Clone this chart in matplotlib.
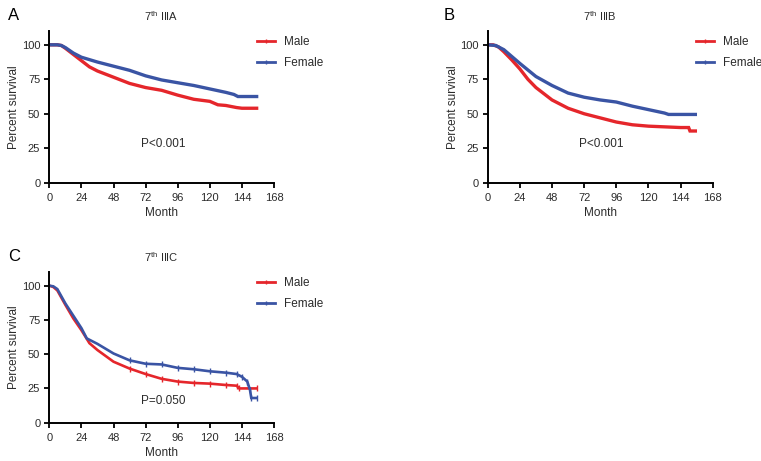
import matplotlib
matplotlib.use("Agg")
import matplotlib.pyplot as plt
from matplotlib.lines import Line2D

plt.rcParams['font.family'] = ['Liberation Sans', 'DejaVu Sans']
plt.rcParams['mathtext.fontset'] = 'custom'
plt.rcParams['mathtext.rm'] = 'Liberation Sans'
plt.rcParams['mathtext.it'] = 'Liberation Sans'

RED = '#e5262b'
BLUE = '#3a54a4'
TXT = '#2b2b2b'

# ---- Data ----
a_male_t = [0, 6, 9, 12, 18, 24, 30, 36, 48, 60, 72, 84, 96, 108, 120, 126, 132, 140, 144, 155]
a_male_s = [100, 100, 99.5, 97.5, 93, 88.5, 84, 81, 76.5, 72, 69, 67, 63.5, 60.5, 59, 56.5, 56, 54.5, 54, 54]
a_fem_t = [0, 6, 9, 12, 18, 24, 36, 48, 60, 72, 84, 96, 108, 120, 132, 138, 141, 155]
a_fem_s = [100, 100, 99.5, 98, 94, 91, 87.5, 84.5, 81.5, 77.5, 74.5, 72.5, 70.5, 68, 65.5, 64, 62.5, 62.5]

b_male_t = [0, 4, 8, 12, 18, 24, 30, 36, 48, 60, 72, 84, 96, 108, 120, 132, 144, 150, 151, 155]
b_male_s = [100, 100, 98.5, 95, 89, 82.5, 75, 69, 60, 54, 50, 47, 44, 42, 41, 40.5, 40, 40, 37.5, 37.5]
b_fem_t = [0, 6, 12, 18, 24, 36, 48, 60, 72, 84, 96, 108, 120, 132, 135, 155]
b_fem_s = [100, 99.5, 96.5, 91.5, 86.5, 77, 70.5, 65, 62, 60, 58.5, 55.5, 53, 50.5, 49.5, 49.5]

c_male_t = [0, 3, 6, 12, 18, 24, 30, 36, 48, 60, 72, 84, 96, 108, 120, 132, 140, 142, 155]
c_male_s = [100, 99, 96.5, 86, 76, 67.5, 58, 53, 44.5, 39.5, 35.5, 32, 30, 29, 28.5, 27.5, 27, 25, 25]
c_fem_t = [0, 3, 6, 12, 18, 24, 28, 36, 48, 60, 72, 84, 96, 108, 120, 132, 140, 144, 148, 150, 151, 155]
c_fem_s = [100, 99.5, 97.5, 87, 78, 69, 61.5, 57.5, 50.5, 45.5, 43, 42.5, 40, 39, 37.5, 36.5, 35.5, 33.5, 30, 24, 18, 18]

panels = [
    dict(label='A', title='IIIA', p='P<0.001', py=28, rect=[0.0648, 0.6037, 0.2953, 0.329],
         male=(a_male_t, a_male_s), fem=(a_fem_t, a_fem_s), lw=2.4, cens=False),
    dict(label='B', title='IIIB', p='P<0.001', py=28, rect=[0.6409, 0.6037, 0.2957, 0.329],
         male=(b_male_t, b_male_s), fem=(b_fem_t, b_fem_s), lw=2.4, cens=False),
    dict(label='C', title='IIIC', p='P=0.050', py=15.5, rect=[0.0648, 0.0831, 0.2953, 0.327],
         male=(c_male_t, c_male_s), fem=(c_fem_t, c_fem_s), lw=1.9, cens=True),
]

x_ticks = [0, 24, 48, 72, 96, 120, 144, 168]
y_ticks = [0, 25, 50, 75, 100]

fig = plt.figure(figsize=(7.61, 4.61), dpi=100)

for pn in panels:
    ax = fig.add_axes(pn['rect'])
    mk = dict(marker='|', markersize=4, markeredgewidth=1.0, markevery=slice(9, None)) if pn['cens'] else {}
    ax.plot(pn['male'][0], pn['male'][1], color=RED, lw=pn['lw'], solid_joinstyle='miter', **mk)
    ax.plot(pn['fem'][0], pn['fem'][1], color=BLUE, lw=pn['lw'], solid_joinstyle='miter', **mk)
    ax.set_xlim(0, 168)
    ax.set_ylim(0, 110)
    ax.set_xticks(x_ticks)
    ax.set_yticks(y_ticks)
    for s in ['top', 'right']:
        ax.spines[s].set_visible(False)
    for s in ['left', 'bottom']:
        ax.spines[s].set_linewidth(1.4)
        ax.spines[s].set_color('black')
    ax.tick_params(direction='out', length=3.5, width=1.3, labelsize=8,
                   labelcolor=TXT, pad=3)
    ax.tick_params(axis='x', pad=4)
    ax.set_xlabel('Month', fontsize=8.5, color=TXT, labelpad=3)
    ax.set_ylabel('Percent survival', fontsize=8.5, color=TXT, labelpad=1)
    ax.set_title('7$^{\\mathrm{th}}$ ' + pn['title'], fontsize=8, color=TXT, pad=7)
    ax.text(85, pn['py'], pn['p'], ha='center', va='center', fontsize=8.5, color=TXT)
    handles = [Line2D([], [], color=RED, lw=2, marker='|', markersize=3, markeredgewidth=1),
               Line2D([], [], color=BLUE, lw=2, marker='|', markersize=3, markeredgewidth=1)]
    ax.legend(handles, ['Male', 'Female'], loc='upper left', bbox_to_anchor=(0.925, 0.965),
              frameon=False, fontsize=8.5, handlelength=1.5, handletextpad=0.8,
              labelspacing=0.75, borderpad=0, borderaxespad=0, labelcolor=TXT)
    # panel label
    bb = pn['rect']
    lx = 0.011 if pn['label'] != 'B' else 0.583
    fig.text(lx, bb[1] + bb[3] + 0.033, pn['label'], fontsize=12, color='black',
             ha='left', va='center')

fig.savefig('out.png', dpi=100)
